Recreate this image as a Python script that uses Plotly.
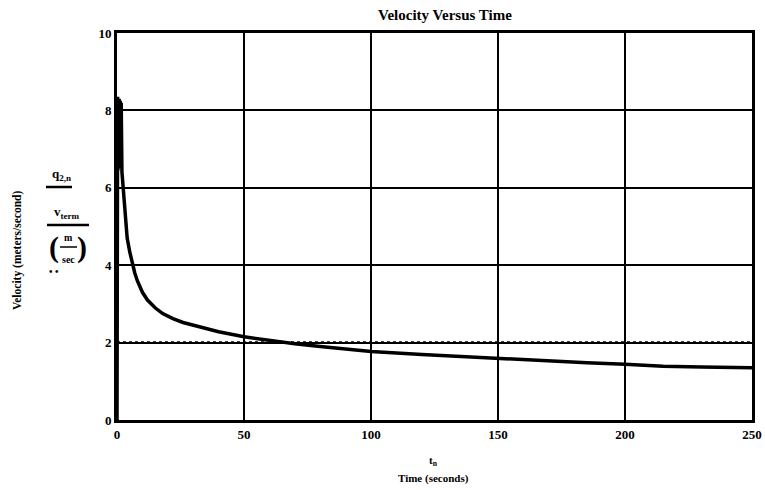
import plotly.graph_objects as go

# Data
t_sec = [0, 0.05, 0.15, 0.25, 0.35, 0.45, 0.55, 0.65, 0.75, 0.85, 0.95, 1.05, 1.15, 1.25, 1.35,
         1.45, 1.55, 1.65, 1.75, 1.85, 1.95, 2.2, 2.6, 3, 3.5, 4, 5, 6, 7, 8,
         10, 12, 15, 18, 22, 26, 30, 35, 40, 50, 60, 70, 80, 90, 100, 120, 140, 150, 170,
         185, 200, 215, 230, 250]
velocity = [0, 8.35, 6.45, 8.35, 6.45, 8.3, 6.5, 8.3, 6.5, 8.3, 6.5, 8.25, 6.5, 8.25, 6.5,
            8.2, 6.5, 8.2, 6.5, 8.1, 6.4, 6.2, 5.8, 5.4, 5.0, 4.7, 4.35,
            4.05, 3.8, 3.6, 3.3, 3.1, 2.9, 2.75, 2.62, 2.52, 2.45, 2.36, 2.28, 2.15, 2.05, 1.97,
            1.9, 1.83, 1.77, 1.69, 1.62, 1.58, 1.52, 1.48, 1.44, 1.39, 1.37, 1.35]
v_term_t = [0, 250]
v_term = [2, 2]
x_ticks = [0, 50, 100, 150, 200, 250]
y_ticks = [0, 2, 4, 6, 8, 10]

W, H = 765, 490
L, R, T, B = 117, 13, 33, 70
PW, PH = W - L - R, H - T - B
SERIF = "Liberation Serif, Times New Roman, serif"


def px(x):
    return (x - L) / PW


def py(y):
    return (H - B - y) / PH


fig = go.Figure()
fig.add_trace(go.Scatter(x=v_term_t, y=v_term, mode="lines",
                         line=dict(color="black", width=2.5, dash="dot"), hoverinfo="skip"))
fig.add_trace(go.Scatter(x=t_sec, y=velocity, mode="lines",
                         line=dict(color="black", width=3.5), hoverinfo="skip"))

axis_common = dict(showline=True, mirror=True, linecolor="black", linewidth=3,
                   showgrid=True, gridcolor="black", gridwidth=1.5, zeroline=False,
                   ticks="", automargin=False,
                   tickfont=dict(family=SERIF, size=13, color="black", weight="bold"))
fig.update_xaxes(range=[0, 250], tickvals=x_ticks, **axis_common)
fig.update_yaxes(range=[0, 10], tickvals=y_ticks, **axis_common)

ann = []


def text(x, y, s, size=11, **kw):
    ann.append(dict(x=px(x), y=py(y), xref="paper", yref="paper", text=s, showarrow=False,
                    font=dict(family=SERIF, size=size, color="black", weight="bold"),
                    xanchor=kw.pop("xanchor", "center"), yanchor=kw.pop("yanchor", "middle"), **kw))


text(445, 15, "Velocity Versus Time", size=15)
text(18, 250, "Velocity (meters/second)", size=11.5, textangle=-90)
text(433, 461, "t<sub>n</sub>", size=11)
text(433, 478, "Time (seconds)", size=11)
text(61, 175, "q<sub>2,n</sub>", size=13)
text(67, 212, "v<sub>term</sub>", size=13)
text(54, 247, "(", size=30)
text(82, 247, ")", size=30)
text(68, 237, "m", size=10)
text(68, 259, "sec", size=10)
text(54, 271, "• •", size=10)

shapes = []
for (x0, x1, y, w) in [(46, 72, 187, 2.5), (47, 89, 225, 2.5), (60, 77, 247, 1.5)]:
    shapes.append(dict(type="line", xref="paper", yref="paper", x0=px(x0), x1=px(x1),
                       y0=py(y), y1=py(y), line=dict(color="black", width=w)))

fig.update_layout(width=W, height=H, margin=dict(l=L, r=R, t=T, b=B),
                  paper_bgcolor="white", plot_bgcolor="white", showlegend=False,
                  annotations=ann, shapes=shapes)
fig.write_html("out.html")
